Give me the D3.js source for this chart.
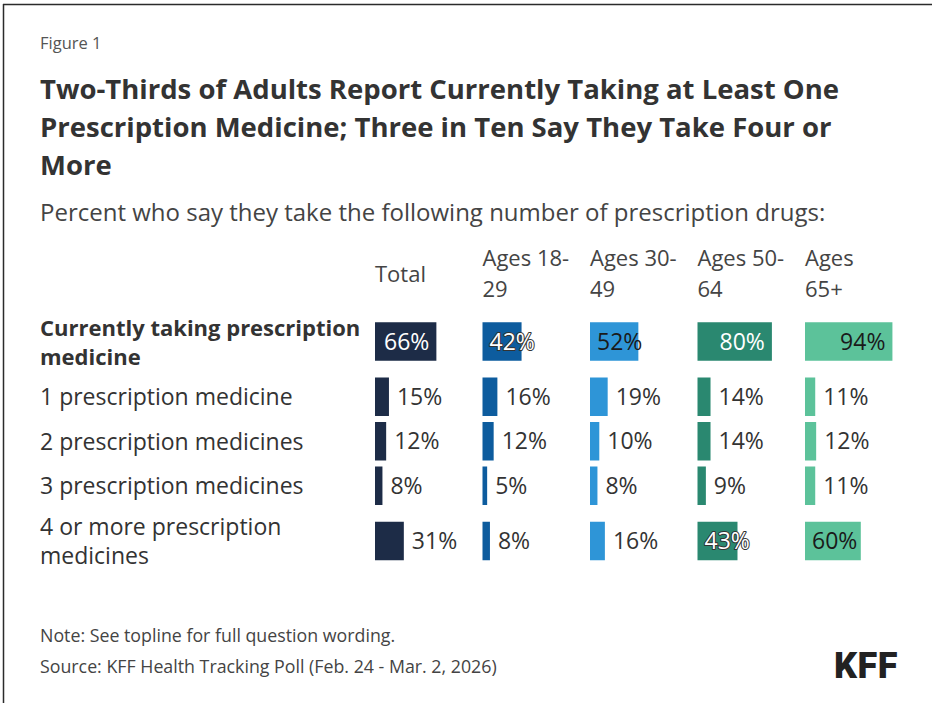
<!DOCTYPE html>
<html>
<head>
<meta charset="utf-8">
<script src="https://cdn.jsdelivr.net/npm/d3@7"></script>
<style>
  html, body { margin: 0; padding: 0; background: #fff; }
  svg { display: block; font-family: "Open Sans", Lato, sans-serif; }
</style>
</head>
<body>
<svg id="chart" width="932" height="703"></svg>
<script>
// ---- data ----
const groups = ["Total", "Ages 18-29", "Ages 30-49", "Ages 50-64", "Ages 65+"];
const groupHeaderLines = [["Total"], ["Ages 18-", "29"], ["Ages 30-", "49"], ["Ages 50-", "64"], ["Ages", "65+"]];
const rowKeys = ["any", "one", "two", "three", "fourPlus"];
const rowLabelLines = [
  ["Currently taking prescription", "medicine"],
  ["1 prescription medicine"],
  ["2 prescription medicines"],
  ["3 prescription medicines"],
  ["4 or more prescription", "medicines"]
];
const totalValues = [66, 15, 12, 8, 31];
const ages18to29 = [42, 16, 12, 5, 8];
const ages30to49 = [52, 19, 10, 8, 16];
const ages50to64 = [80, 14, 14, 9, 43];
const ages65plus = [94, 11, 12, 11, 60];
const seriesValues = [totalValues, ages18to29, ages30to49, ages50to64, ages65plus];
const groupColors = ["#1d2c47", "#0d5c9e", "#2e95d7", "#2a8870", "#5cc29a"];
const labelOnDark = [true, true, false, true, false];

const titleLines = [
  "Two-Thirds of Adults Report Currently Taking at Least One",
  "Prescription Medicine; Three in Ten Say They Take Four or",
  "More"
];
const subtitle = "Percent who say they take the following number of prescription drugs:";
const noteText = "Note: See topline for full question wording.";
const sourceText = "Source: KFF Health Tracking Poll (Feb. 24 - Mar. 2, 2026)";

// ---- layout ----
const svg = d3.select("#chart");
const W = 932, H = 703;
const left = 40;

// frame lines (top and left)
svg.append("line").attr("x1", 3).attr("x2", W).attr("y1", 4.5).attr("y2", 4.5)
  .attr("stroke", "#2b2b2b").attr("stroke-width", 1.5);
svg.append("line").attr("x1", 3.5).attr("x2", 3.5).attr("y1", 4).attr("y2", H)
  .attr("stroke", "#2b2b2b").attr("stroke-width", 1.5);

svg.append("text").attr("x", left).attr("y", 49)
  .attr("font-size", 16.5).attr("fill", "#555").text("Figure 1");

svg.append("g").selectAll("text").data(titleLines).join("text")
  .attr("x", left).attr("y", (d, i) => 99 + i * 38)
  .attr("font-size", 27.5).attr("font-weight", 700).attr("fill", "#333")
  .text(d => d);

svg.append("text").attr("x", left).attr("y", 221)
  .attr("font-size", 24).attr("fill", "#444").text(subtitle);

// scales
const colScale = d3.scaleBand().domain(groups).range([375, 912.5]);
const wScale = d3.scaleLinear().domain([0, 100]).range([0, 93]);

// row centres from the number of label lines in each row
const lineH = 29, barH = 38.5;
const rowBand = rowLabelLines.map(l => l.length > 1 ? 66 : 44.5);
let acc = 308.5;
const centers = rowBand.map(h => { const c = acc + h / 2; acc += h; return c; });
const yScale = d3.scaleOrdinal().domain(rowKeys).range(centers);

// column headers
groups.forEach((g, gi) => {
  const lines = groupHeaderLines[gi];
  const mid = 274;
  svg.append("g").selectAll("text").data(lines).join("text")
    .attr("x", colScale(g))
    .attr("y", (d, i) => mid + 7.5 + (i - (lines.length - 1) / 2) * 31)
    .attr("font-size", 22).attr("fill", "#444")
    .text(d => d);
});

// row labels
rowKeys.forEach((k, ri) => {
  const lines = rowLabelLines[ri];
  svg.append("g").selectAll("text").data(lines).join("text")
    .attr("x", left)
    .attr("y", (d, i) => yScale(k) + 8.5 + (i - (lines.length - 1) / 2) * lineH)
    .attr("font-size", ri === 0 ? 22 : 23)
    .attr("font-weight", ri === 0 ? 700 : 400)
    .attr("fill", "#333")
    .text(d => d);
});

// bars and value labels
groups.forEach((g, gi) => {
  const vals = seriesValues[gi];
  const col = svg.append("g");
  const x0 = colScale(g);
  vals.forEach((v, ri) => {
    const k = rowKeys[ri];
    const w = wScale(v);
    const cy = yScale(k);
    col.append("rect")
      .attr("x", x0).attr("y", cy - barH / 2)
      .attr("width", w).attr("height", barH)
      .attr("fill", groupColors[gi]);

    const t = col.append("text")
      .attr("y", cy + 8)
      .attr("font-size", 23)
      .text(v + "%");
    const tw = t.node().getComputedTextLength();
    if (v >= 35) {
      const pad = 7;
      const fits = tw + 2 * pad <= w;
      if (fits) {
        t.attr("x", x0 + w - pad).attr("text-anchor", "end");
      } else {
        t.attr("x", x0 + pad).attr("text-anchor", "start");
      }
      if (labelOnDark[gi]) {
        t.attr("fill", "#fff");
        if (!fits) {
          t.attr("stroke", "#333").attr("stroke-width", 2)
            .attr("paint-order", "stroke").attr("stroke-linejoin", "round");
        }
      } else {
        t.attr("fill", "#1a1a1a");
      }
    } else {
      t.attr("x", x0 + w + 8).attr("fill", "#333");
    }
  });
});

// footer
svg.append("text").attr("x", left).attr("y", 642)
  .attr("font-size", 17.8).attr("fill", "#444").text(noteText);
svg.append("text").attr("x", left).attr("y", 673)
  .attr("font-size", 17.8).attr("fill", "#444").text(sourceText);
svg.append("text").attr("x", 898).attr("y", 678).attr("text-anchor", "end")
  .attr("font-size", 36).attr("font-weight", 900).attr("fill", "#222")
  .attr("font-family", "Roboto, sans-serif").attr("letter-spacing", 0.5)
  .text("KFF");
</script>
</body>
</html>
